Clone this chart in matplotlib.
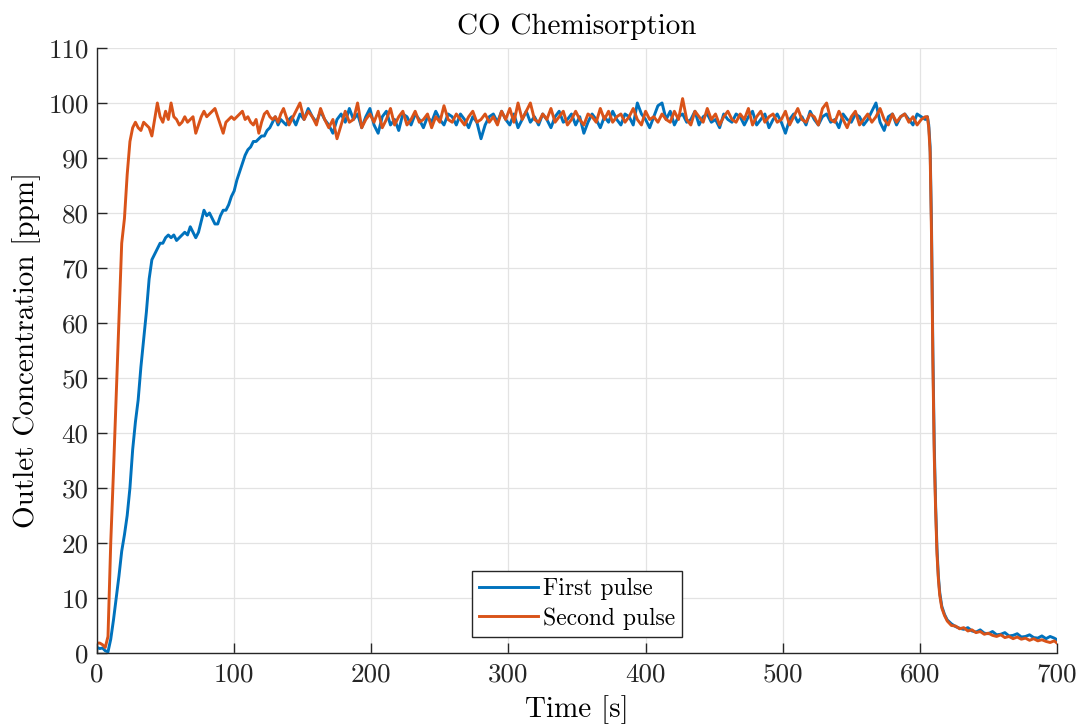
import numpy as np
import matplotlib
matplotlib.use("Agg")
import matplotlib.pyplot as plt

plt.rcParams['font.family'] = ['cmr10', 'DejaVu Serif']
plt.rcParams['axes.unicode_minus'] = False
plt.rcParams['mathtext.fontset'] = 'cm'

# ---------------- data ----------------
t_rise = np.arange(0, 141, 2)          # 0..140 s
t_plat = np.arange(142, 605, 3)        # 142..604 s
t_drop = [605.5, 606.5, 607.5, 608.5, 609.5, 610.5, 611.5, 612.5, 613.5, 614.5, 616, 618, 620, 623]
t_tail = list(np.arange(626, 699, 3)) + [700]

first_rise = [1.0, 0.8, 0.9, 0.4, 0.2, 2.5, 6, 10, 14, 18.5, 21.5, 25, 30, 37, 42, 46, 52, 57, 62, 68,
              71.5, 72.5, 73.5, 74.5, 74.5, 75.5, 76, 75.5, 76, 75, 75.5, 76, 76.5, 76, 77.5, 76.5, 75.5,
              76.5, 78.5, 80.5, 79.5, 80, 79, 78, 78, 79.5, 80.5, 80.5, 81.5, 83, 84, 86, 87.5, 89, 90.5,
              91.5, 92, 93, 93, 93.5, 94, 94, 95, 95.5, 96.5, 97.5, 96, 97, 96.5, 96, 97]
first_plat = [97.5, 96, 98, 97, 99, 97.5, 96.5, 98.5, 97, 96,
              94.5, 97, 98, 96.5, 99, 97, 98, 95.5, 97.5, 99,
              96, 94.5, 97.5, 98.5, 96, 97, 95, 98, 97.5, 96,
              98, 97, 95.5, 97.5, 96.5, 98.5, 97, 96, 98, 97.5,
              96, 98, 97, 95.5, 97.5, 96.5, 93.5, 96, 97.5, 98,
              96.5, 98.5, 97, 96, 98, 95.5, 97, 98.5, 96.5, 97.5,
              96, 98, 97, 95.5, 97.5, 98.5, 96.5, 97, 98, 96,
              97.5, 94.5, 96.5, 98, 97, 95.5, 97.5, 96.5, 98.5, 97,
              96, 98, 97.5, 96, 100, 98, 97, 95.5, 97.5, 99.5,
              100, 97, 98.5, 96, 97.5, 98, 96.5, 97, 98.5, 96,
              97.5, 98, 96.5, 97, 95.5, 98, 97, 96.5, 98, 97.5,
              96, 97.5, 98.5, 96, 97, 98, 95.5, 97, 98, 96.5,
              94.5, 97, 98, 96.5, 97.5, 96, 98.5, 97, 96, 97.5,
              98, 96.5, 97, 95.5, 98, 97, 96.5, 98, 97.5, 96,
              97, 98.5, 100, 96.5, 95, 97.5, 98, 96, 97.5, 98,
              97, 96, 98, 97.5, 97]
first_drop = [97.5, 96, 92, 78, 55, 38, 27, 19, 14, 11, 8.5, 7, 6, 5.3]
first_tail = [4.8, 4.5, 4.3, 4.6, 4.0, 3.8, 4.2, 3.6, 3.5, 3.9, 3.3, 3.4, 3.7, 3.1, 3.2, 3.5, 2.9,
              3.0, 3.3, 2.8, 2.7, 3.1, 2.6, 3.0, 2.7, 2.4]

second_rise = [1.8, 1.8, 1.5, 1.0, 3, 20, 33, 47, 61, 74.5, 79, 87, 93, 95.5, 96.5, 95.5, 95, 96.5, 96,
               95.5, 94, 97, 100, 97.5, 96.5, 98.5, 97, 100, 97.5, 97, 96, 96.5, 97.5, 96.5, 97, 97.5,
               94.5, 96, 97.5, 98.5, 97.5, 98, 98.5, 99, 97.5, 96, 94.5, 96.5, 97, 97.5, 97, 97.5, 98,
               98.5, 97, 97.5, 96.5, 96, 97, 94.5, 96.5, 98, 98.5, 97.5, 97, 97.5, 96.5, 98, 99, 97.5, 96]
second_plat = [97, 98.5, 100, 97, 98.5, 97.5, 96, 99, 97, 95.5,
               97, 93.5, 96, 98.5, 96.5, 97, 100, 95.5, 97, 98,
               96.5, 98.5, 95.5, 97, 99, 96, 97.5, 98.5, 96, 97,
               98.5, 96.5, 97, 98, 95.5, 97.5, 96.5, 99.5, 97, 96.5,
               98, 97, 96, 97.5, 98.5, 96.5, 97, 98, 96.5, 97.5,
               96, 98.5, 97, 99, 96.5, 100, 97, 98.5, 100, 97,
               96.5, 98, 97, 99, 96.5, 97.5, 98.5, 96, 97, 98.5,
               97, 96, 98, 97.5, 96.5, 99, 97, 98.5, 96.5, 97.5,
               98, 96.5, 97.5, 99, 97, 96, 98.5, 97, 97.5, 96.5,
               98, 97, 96.5, 98.5, 97, 100.8, 97, 96, 98.5, 97.5,
               96.5, 99, 97, 98, 96, 97.5, 98.5, 97, 96.5, 98,
               97, 99, 96, 97.5, 98.5, 96.5, 97.5, 98, 96.5, 97,
               98.5, 96, 97.5, 99, 97, 96.5, 98, 97.5, 96, 99,
               100, 97, 96.5, 98.5, 97, 95.5, 97.5, 98.5, 96, 97,
               98, 96.5, 97.5, 99, 97, 96, 98, 96.5, 97.5, 98,
               96.5, 97.5, 96, 97, 97.5]
second_drop = [97.5, 95.5, 91, 76, 53, 36, 26, 18, 13.5, 10.5, 8.2, 6.8, 5.8, 5.0]
second_tail = [4.9, 4.4, 4.6, 4.0, 4.2, 3.7, 3.9, 3.4, 3.6, 3.2, 3.0, 3.3, 2.8, 3.0, 2.6, 2.9, 2.5,
               2.7, 2.3, 2.6, 2.2, 2.4, 2.1, 1.9, 2.2, 1.8]

labels = ["First pulse", "Second pulse"]
x_ticks = [0, 100, 200, 300, 400, 500, 600, 700]
y_ticks = list(range(0, 111, 10))

time = np.concatenate([t_rise, t_plat, t_drop, t_tail])
first = np.concatenate([first_rise, first_plat, first_drop, first_tail])
second = np.concatenate([second_rise, second_plat, second_drop, second_tail])

# ---------------- plot ----------------
fig = plt.figure(figsize=(10.78, 7.26), dpi=100)
ax = fig.add_axes([0.090, 0.1006, 0.8905, 0.8333])

ax.plot(time, first, color='#0072BD', lw=2.1, label=labels[0])
ax.plot(time, second, color='#D95319', lw=2.1, label=labels[1])

ax.set_xlim(0, 700)
ax.set_ylim(0, 110)
ax.set_xticks(x_ticks)
ax.set_yticks(y_ticks)
ax.grid(True, color='#e3e3e3', lw=0.9)
ax.set_axisbelow(True)
for s in ['top', 'right']:
    ax.spines[s].set_visible(False)
for s in ['left', 'bottom']:
    ax.spines[s].set_color('#262626')
    ax.spines[s].set_linewidth(1.0)
ax.tick_params(direction='in', length=7, width=1.0, color='#262626',
               labelsize=19.5, labelcolor='#262626', pad=6)
ax.tick_params(axis='x', pad=7)

ax.set_title("CO Chemisorption", fontsize=21, pad=10)
ax.set_xlabel("Time [s]", fontsize=21, labelpad=6)
ax.set_ylabel("Outlet Concentration [ppm]", fontsize=21, labelpad=5)

leg = ax.legend(loc='lower center', bbox_to_anchor=(0.50, 0.027), fontsize=17,
                fancybox=False, edgecolor='#262626', framealpha=1,
                handlelength=2.5, handletextpad=0.2, borderpad=0.3, labelspacing=0.3,
                borderaxespad=0)
leg.get_frame().set_linewidth(1.0)

fig.savefig("out.png", dpi=100)
